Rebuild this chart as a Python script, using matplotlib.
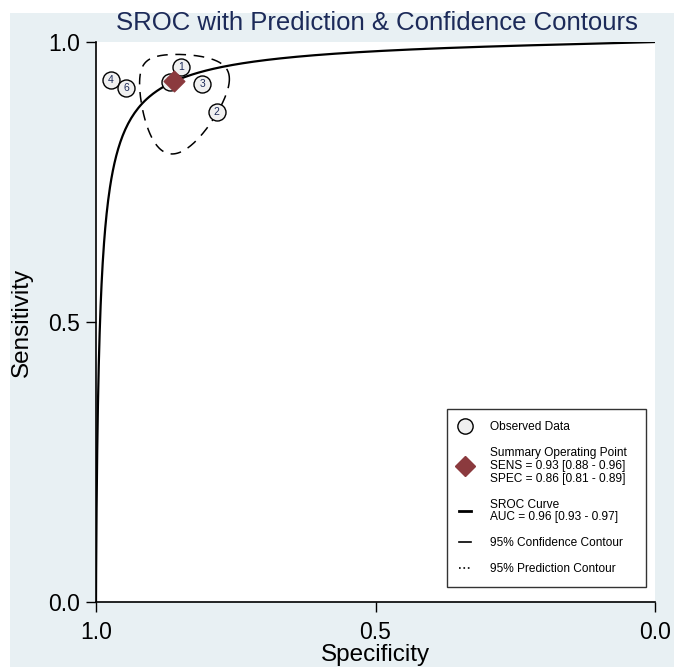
import numpy as np
import matplotlib
matplotlib.use("Agg")
import matplotlib.pyplot as plt
from matplotlib.lines import Line2D
from matplotlib.patches import Rectangle

plt.rcParams['font.family'] = ['Liberation Sans', 'DejaVu Sans']

# observed studies (specificity, sensitivity)
study_id = ["1", "2", "3", "4", "5", "6"]
spec = [0.848, 0.784, 0.810, 0.973, 0.868, 0.946]
sens = [0.955, 0.875, 0.925, 0.932, 0.929, 0.918]

# summary operating point
sum_spec = 0.86
sum_sens = 0.93

# SROC: logit(sens) = alpha + beta * logit(1 - spec)
sroc_alpha = 4.09
sroc_beta = 0.83

# 95% confidence contour (ellipse in logit space: logit(FPR), logit(sens))
conf_sd_x = 0.655
conf_sd_y = 1.2
conf_rho = 0.05

legend_txt = ["Observed Data",
              "Summary Operating Point\nSENS = 0.93 [0.88 - 0.96]\nSPEC = 0.86 [0.81 - 0.89]",
              "SROC Curve\nAUC = 0.96 [0.93 - 0.97]",
              "95% Confidence Contour",
              "95% Prediction Contour"]


def logit(p):
    return np.log(p / (1 - p))


def expit(x):
    return 1 / (1 + np.exp(-x))


fig = plt.figure(figsize=(6.74, 6.67), dpi=100)
fig.patches.append(Rectangle((10 / 674, 0), 1, 1 - 13 / 667, transform=fig.transFigure,
                             facecolor="#e8f0f3", edgecolor="none", zorder=-5))
ax = fig.add_axes([96 / 674, 1 - 602 / 667, 559 / 674, 560 / 667])
ax.set_facecolor("white")

# SROC curve
fpr = np.concatenate([np.logspace(-9, -1, 400), np.linspace(0.1, 1 - 1e-6, 400)])
ax.plot(1 - fpr, expit(sroc_alpha + sroc_beta * logit(fpr)), color="black", lw=1.6, zorder=3)

# confidence contour
t = np.linspace(0, 2 * np.pi, 300)
cx = logit(1 - sum_spec) + conf_sd_x * np.cos(t)
cy = logit(sum_sens) + conf_sd_y * (conf_rho * np.cos(t) + np.sqrt(1 - conf_rho ** 2) * np.sin(t))
ax.plot(1 - expit(cx), expit(cy), color="black", lw=1.1, ls=(0, (7, 5)), zorder=2)

# studies
ax.scatter(spec, sens, s=150, facecolor="#f0f0f0", edgecolor="black", lw=1.0, zorder=4)
for i, lab in enumerate(study_id):
    ax.text(spec[i], sens[i], lab, ha="center", va="center", fontsize=7.5, color="#1c2a59", zorder=5)

ax.scatter([sum_spec], [sum_sens], marker="D", s=110, color="#8b3a3e", zorder=6)

ax.set_xlim(1, 0)
ax.set_ylim(0, 1)
ax.set_xticks([1.0, 0.5, 0.0])
ax.set_xticklabels(["1.0", "0.5", "0.0"])
ax.set_yticks([0.0, 0.5, 1.0])
ax.set_yticklabels(["0.0", "0.5", "1.0"])
ax.tick_params(direction="out", length=7.5, width=1, labelsize=16.5)
ax.tick_params(axis="x", pad=6)
ax.tick_params(axis="y", pad=4)
for s in ["top", "right"]:
    ax.spines[s].set_visible(False)
for s in ["left", "bottom"]:
    ax.spines[s].set_linewidth(1.2)
ax.set_xlabel("Specificity", fontsize=17.5, labelpad=0)
ax.set_ylabel("Sensitivity", fontsize=17.5, labelpad=11)
fig.text(377 / 674, 1 - 23 / 667, "SROC with Prediction & Confidence Contours",
         ha="center", va="center", fontsize=18.5, color="#1c2a59")

handles = [
    Line2D([], [], marker="o", ls="none", ms=11, mfc="#f0f0f0", mec="black"),
    Line2D([], [], marker="D", ls="none", ms=10, color="#8b3a3e"),
    Line2D([], [], color="black", lw=2),
    Line2D([], [], color="black", lw=1.2),
    Line2D([], [], color="black", lw=1.2, ls=":"),
]
leg = ax.legend(handles, legend_txt, loc="lower left", bbox_to_anchor=(0.628, 0.027, 0.356, 0.3),
                mode="expand", fontsize=8.6, handlelength=1.0, handletextpad=1.6, labelspacing=1.15,
                borderpad=1.0, fancybox=False, frameon=True, borderaxespad=0)
for txt in leg.get_texts():
    txt.set_linespacing(1.1)
leg.get_frame().set_edgecolor("black")
leg.get_frame().set_linewidth(1.0)

fig.savefig("out.png", dpi=100)
